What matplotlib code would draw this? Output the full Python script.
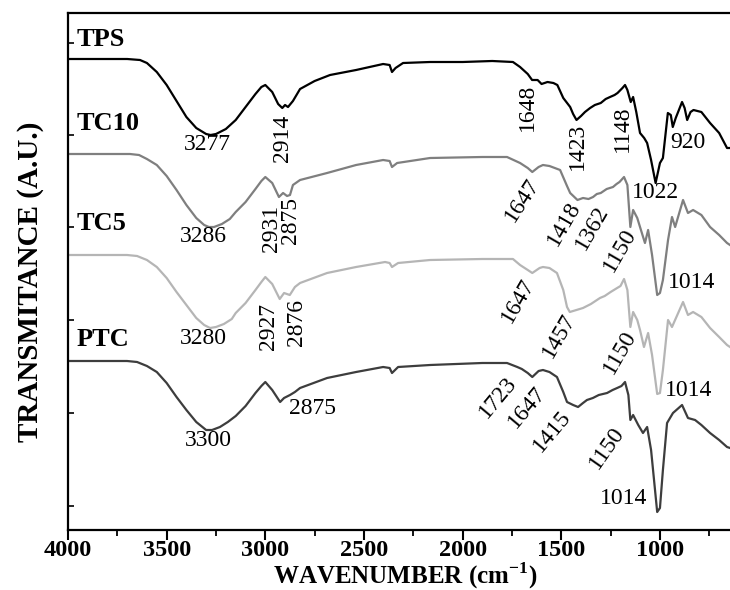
import matplotlib
matplotlib.use('Agg')
import matplotlib.pyplot as plt
from matplotlib.ticker import MultipleLocator

# FTIR spectra, stacked with vertical offsets (arbitrary transmittance units)
tps_wn = [4000, 3700, 3635, 3600, 3550, 3500, 3450, 3400, 3350, 3300, 3277, 3250, 3200,
          3150, 3100, 3050, 3020, 3000,
          2965, 2935, 2914, 2900, 2885, 2860, 2824, 2750, 2672, 2540, 2403, 2370, 2358,
          2340, 2302, 2165, 2000, 1850, 1745, 1709, 1670, 1648, 1620, 1600, 1570, 1540,
          1520, 1490, 1455, 1440, 1423, 1400, 1380, 1354, 1330, 1300, 1275, 1253, 1230,
          1215, 1190, 1177, 1165, 1148, 1136, 1120, 1101, 1080, 1065, 1045, 1022, 1000,
          985, 960, 945, 935, 920, 888, 875, 862, 845, 830, 790, 746, 700, 660, 645]
tps_t = [471, 471, 470, 467, 458, 445, 429, 413, 402, 396, 395, 396, 401,
         410, 423, 436, 443, 445,
         438, 426, 422, 425, 423, 429, 441, 449, 455, 460, 466, 465, 458,
         462, 467, 468, 468, 469, 468, 463, 456, 450, 450, 446, 448, 447,
         445, 432, 423, 416, 410, 414, 418, 422, 425, 427, 431, 433, 435,
         437, 442, 445, 440, 428, 433, 418, 397, 392, 387, 370, 347, 367,
         372, 417, 415, 403, 412, 428, 422, 410, 418, 420, 418, 407, 397, 382, 382]

tc10_wn = [4000, 3686, 3640, 3600, 3550, 3500, 3450, 3400, 3350, 3310, 3286, 3260, 3220,
           3180, 3150, 3100, 3050, 3020, 3000,
           2965, 2931, 2910, 2890, 2875, 2860, 2824, 2687, 2540, 2403, 2370, 2358, 2332,
           2165, 1900, 1775, 1709, 1670, 1647, 1615, 1593, 1560, 1506, 1471, 1455, 1418,
           1390, 1362, 1339, 1320, 1300, 1270, 1238, 1220, 1205, 1182, 1165, 1150, 1136,
           1115, 1101, 1076, 1060, 1040, 1014, 1000, 985, 959, 939, 923, 883, 858, 832,
           790, 746, 700, 660, 645]
tc10_t = [376, 376, 375, 371, 365, 354, 340, 325, 312, 305, 303, 303, 306,
          311, 318, 328, 341, 349, 353,
          347, 333, 337, 334, 335, 345, 350, 357, 365, 370, 369, 363, 367,
          372, 373, 373, 367, 362, 358, 363, 365, 364, 360, 344, 337, 330,
          332, 331, 333, 336, 337, 341, 343, 346, 348, 353, 345, 303, 320,
          312, 303, 287, 300, 275, 235, 237, 250, 290, 313, 303, 330, 317, 320,
          315, 303, 295, 287, 285]

tc5_wn = [4000, 3701, 3650, 3600, 3550, 3500, 3450, 3400, 3350, 3310, 3280, 3250, 3210,
          3170, 3150, 3100, 3050, 3020, 3000,
          2965, 2927, 2905, 2876, 2850, 2824, 2687, 2540, 2393, 2370, 2358, 2327, 2165,
          1900, 1745, 1709, 1670, 1647, 1610, 1593, 1560, 1522, 1490, 1471, 1457, 1440,
          1390, 1350, 1304, 1280, 1250, 1217, 1200, 1182, 1165, 1150, 1136, 1115, 1101,
          1081, 1060, 1040, 1014, 1000, 985, 959, 939, 883, 858, 832, 790, 746, 700,
          660, 645]
tc5_t = [275, 275, 274, 270, 263, 252, 238, 225, 212, 205, 202, 203, 206,
         211, 217, 227, 240, 248, 253,
         246, 231, 237, 235, 243, 247, 257, 263, 268, 267, 263, 267, 270,
         271, 271, 265, 260, 257, 262, 263, 262, 257, 240, 223, 218, 219,
         222, 226, 232, 234, 238, 242, 244, 251, 240, 203, 218, 210, 200,
         183, 197, 175, 136, 137, 160, 210, 203, 228, 215, 218, 213, 202, 193,
         185, 183]

ptc_wn = [4000, 3701, 3650, 3600, 3550, 3500, 3450, 3400, 3350, 3300, 3270, 3230, 3190,
          3150, 3100, 3050, 3020, 3000,
          2965, 2925, 2905, 2875, 2850, 2824, 2687, 2540, 2403, 2370, 2358, 2327, 2165,
          1900, 1775, 1723, 1700, 1670, 1647, 1615, 1593, 1560, 1522, 1490, 1471, 1440,
          1415, 1390, 1370, 1340, 1310, 1268, 1240, 1217, 1195, 1177, 1160, 1150, 1136,
          1110, 1086, 1065, 1045, 1020, 1014, 1000, 985, 964, 934, 888, 858, 822, 790,
          746, 700, 660, 645]
ptc_t = [169, 169, 168, 164, 158, 147, 133, 120, 108, 100, 100, 103, 108,
         114, 124, 137, 144, 148,
         140, 128, 132, 135, 138, 142, 152, 158, 163, 162, 157, 163, 165,
         167, 167, 163, 161, 157, 153, 159, 160, 158, 153, 138, 128, 125,
         123, 127, 130, 132, 135, 137, 140, 142, 144, 148, 135, 110, 115,
         105, 97, 103, 80, 30, 18, 22, 60, 107, 117, 125, 112, 110, 105,
         97, 90, 83, 82]

series = [
    ('TPS', tps_wn, tps_t, '#000000', 491),
    ('TC10', tc10_wn, tc10_t, '#7f7f7f', 406),
    ('TC5', tc5_wn, tc5_t, '#b5b5b5', 306),
    ('PTC', ptc_wn, ptc_t, '#3d3d3d', 191),
]

# band labels: text, x (cm-1), y, rotation
bands = [
    ('3277', 3295, 385, 0), ('2914', 2915, 392, 90), ('1648', 1674, 423, 90),
    ('1423', 1420, 384, 90), ('1148', 1192, 401, 90), ('920', 858, 388, 0),
    ('1022', 1025, 338, 0),
    ('3286', 3316, 293, 0), ('2931', 2970, 302, 90), ('2875', 2872, 309, 90),
    ('1647', 1699, 330, 57), ('1418', 1486, 306, 60), ('1362', 1344, 302, 60),
    ('1150', 1202, 280, 60), ('1014', 842, 248, 0),
    ('3280', 3316, 191, 0), ('2927', 2986, 203, 90), ('2876', 2844, 208, 90),
    ('1647', 1719, 229, 60), ('1457', 1511, 194, 60), ('1150', 1202, 178, 60),
    ('1014', 853, 139, 0),
    ('3300', 3290, 89, 0), ('2875', 2763, 122, 0), ('1723', 1821, 133, 50),
    ('1647', 1674, 123, 50), ('1415', 1547, 99, 50), ('1150', 1268, 82, 55),
    ('1014', 1182, 32, 0),
]

SERIF = 'Liberation Serif'
plt.rcParams.update({
    'font.family': SERIF,
    'mathtext.fontset': 'custom',
    'mathtext.rm': SERIF,
    'mathtext.bf': SERIF + ':bold',
})

fig = plt.figure(figsize=(7.3, 5.9), dpi=100)
ax = fig.add_axes([68 / 730, 60 / 590, 662 / 730, 517 / 590])

for name, wn, t, color, label_y in series:
    ax.plot(wn, t, color=color, lw=1.6, solid_joinstyle='round')
    ax.text(3955, label_y, name, fontsize=19, fontweight='bold',
            ha='left', va='center')

for txt, x, y, rot in bands:
    ax.text(x, y, txt, fontsize=17, ha='center', va='center',
            rotation=rot, rotation_mode='anchor')

ax.set_xlim(4000, 645)
ax.set_ylim(0, 517)

ax.spines['right'].set_visible(False)
for side in ('left', 'top', 'bottom'):
    ax.spines[side].set_linewidth(1.6)

ax.xaxis.set_major_locator(MultipleLocator(500))
ax.xaxis.set_minor_locator(MultipleLocator(250))
ax.tick_params(axis='x', which='major', direction='out', length=7, width=1.5,
               labelsize=17.5, pad=0)
ax.tick_params(axis='x', which='minor', direction='out', length=4, width=1.3)
for lbl in ax.get_xticklabels():
    lbl.set_fontweight('bold')

ax.set_yticks([24, 117, 210, 303, 395, 487])
ax.tick_params(axis='y', direction='in', length=4, width=1.2, labelleft=False)

ax.set_xlabel(r'WAVENUMBER (cm$^{\mathbf{-1}}$)', fontsize=18, fontweight='bold')
ax.xaxis.set_label_coords(0.51, -0.058)
ax.set_ylabel('TRANSMITANCE (A.U.)', fontsize=21, fontweight='bold')
ax.yaxis.set_label_coords(-0.036, 0.48)

fig.savefig('out.png', dpi=100)
